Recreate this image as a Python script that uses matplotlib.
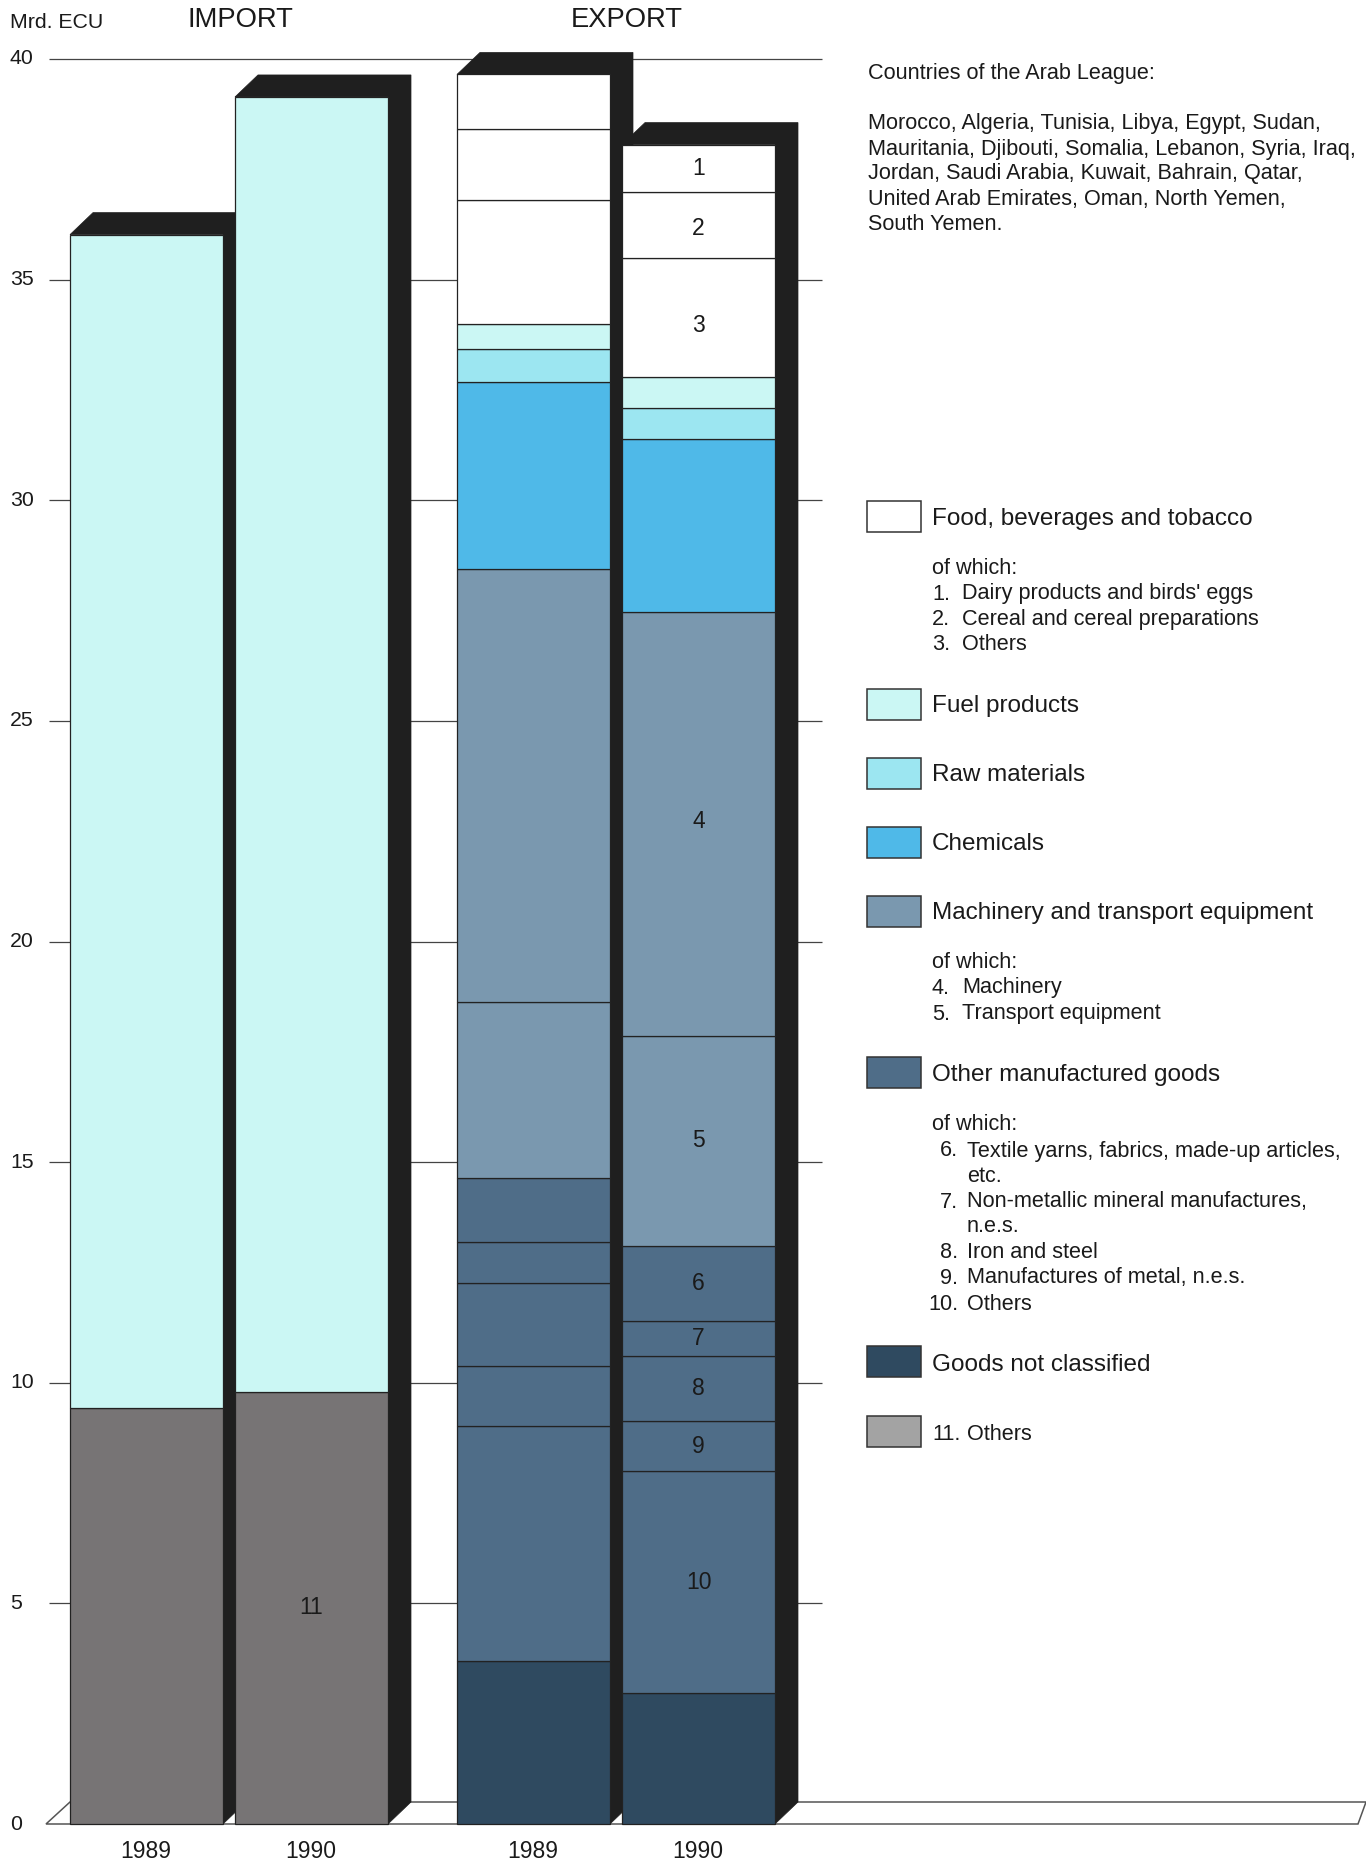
import matplotlib
matplotlib.use("Agg")
import matplotlib.pyplot as plt
from matplotlib.patches import Polygon, Rectangle
import numpy as np

plt.rcParams['font.family'] = ['Liberation Sans', 'DejaVu Sans']

W, H = 1366, 1863
Y0_PX, UNIT_PX = 1824.0, 44.125

# ---- data ----
years = ['1989', '1990']
y_ticks = [0, 5, 10, 15, 20, 25, 30, 35, 40]

import_others = [9.42, 9.80]
import_fuel = [26.60, 29.34]

# bottom to top
export_not_classified = [3.69, 2.96]
export_other_mfg_10 = [5.33, 5.03]
export_metal_9 = [1.37, 1.14]
export_iron_8 = [1.88, 1.48]
export_mineral_7 = [0.92, 0.78]
export_textile_6 = [1.45, 1.72]
export_transport_5 = [3.99, 4.74]
export_machinery_4 = [9.82, 9.61]
export_chemicals = [4.23, 3.93]
export_raw = [0.75, 0.70]
export_fuel = [0.57, 0.70]
export_food_3 = [2.80, 2.69]
export_cereal_2 = [1.61, 1.50]
export_dairy_1 = [1.24, 1.08]

C_FOOD, C_FUEL, C_RAW, C_CHEM = '#ffffff', '#cbf7f4', '#9ce6f1', '#4fb9e8'
C_MACH, C_OTHER, C_NC, C_GREY = '#7a98af', '#4f6d88', '#2f4a60', '#777475'

export_stack = [
    (export_not_classified, C_NC, None),
    (export_other_mfg_10, C_OTHER, '10'),
    (export_metal_9, C_OTHER, '9'),
    (export_iron_8, C_OTHER, '8'),
    (export_mineral_7, C_OTHER, '7'),
    (export_textile_6, C_OTHER, '6'),
    (export_transport_5, C_MACH, '5'),
    (export_machinery_4, C_MACH, '4'),
    (export_chemicals, C_CHEM, None),
    (export_raw, C_RAW, None),
    (export_fuel, C_FUEL, None),
    (export_food_3, C_FOOD, '3'),
    (export_cereal_2, C_FOOD, '2'),
    (export_dairy_1, C_FOOD, '1'),
]
import_stack = [
    (import_others, C_GREY, '11'),
    (import_fuel, C_FUEL, None),
]

# ---- layout ----
fig = plt.figure(figsize=(W / 100, H / 100), dpi=100, facecolor='white')
ax = fig.add_axes([0, 0, 1, 1])
ax.set_xlim(0, W)
ax.set_ylim((Y0_PX - H) / UNIT_PX, Y0_PX / UNIT_PX)
ax.axis('off')

BAR_W = 153
import_x = [70, 235]
export_x = [457, 622]
DX, DY = 23, 22 / UNIT_PX
SHADOW = '#1f1f1f'
EDGE = '#222222'
LABEL_NUDGE = {'3': -0.18, '2': -0.07, '4': 0.07, '11': 0.0}


def ty(px):
    return 1 - px / H


def T(x, y, s, size=15.6, **kw):
    fig.text(x / W, ty(y + 2), s, fontsize=size, va='center', color='#1a1a1a', **kw)


# grid ticks
for v in y_ticks[1:]:
    ax.plot([49, 822], [v, v], color='#444444', lw=0.9, zorder=1, solid_capstyle='butt')
    ax.text(10, v, str(v), fontsize=15.3, va='center', ha='left', color='#1a1a1a')
ax.text(10, 0, '0', fontsize=15.3, va='center', ha='left', color='#1a1a1a')

# floor
ax.add_patch(Polygon([(46, 0), (70, DY), (1366, DY), (1358, 0)], closed=True,
                     facecolor='white', edgecolor='#555555', lw=1.1, zorder=2))


def stacked(xs, stack, label_idx, z):
    totals = np.sum([s[0] for s in stack], axis=0)
    for i, x in enumerate(xs):
        r = x + BAR_W
        t = totals[i]
        ax.add_patch(Polygon([(x, t), (x + DX, t + DY), (r + DX, t + DY), (r + DX, DY),
                              (r, 0), (r, t)], closed=True, facecolor=SHADOW,
                             edgecolor=SHADOW, lw=0.5, zorder=z))
        bottom = 0.0
        for vals, col, lab in stack:
            ax.bar(x, vals[i], width=BAR_W, bottom=bottom, align='edge', color=col,
                   edgecolor=EDGE, linewidth=0.9, zorder=z + 0.5)
            if lab and i == label_idx:
                ax.text(x + BAR_W / 2, bottom + vals[i] / 2 + LABEL_NUDGE.get(lab, 0), lab,
                        fontsize=16.5, ha='center', va='center', color='#1a1a1a', zorder=z + 1)
            bottom += vals[i]
        z += 2


stacked(import_x, import_stack, 1, 3)
stacked(export_x, export_stack, 1, 8)

# years
for xs in (import_x, export_x):
    for x, yr in zip(xs, years):
        ax.text(x + BAR_W / 2 - 1, (Y0_PX - 1851) / UNIT_PX, yr, fontsize=16.5, ha='center',
                va='center', color='#1a1a1a')

# headings
T(10, 20, 'Mrd. ECU', size=15.3)
T(240, 18, 'IMPORT', size=19.7, ha='center')
T(627, 18, 'EXPORT', size=19.7, ha='center')

# country note
T(868, 71, 'Countries of the Arab League:')
for y, s in zip([121, 147, 172, 198, 223], [
    'Morocco, Algeria, Tunisia, Libya, Egypt, Sudan,',
    'Mauritania, Djibouti, Somalia, Lebanon, Syria, Iraq,',
    'Jordan, Saudi Arabia, Kuwait, Bahrain, Qatar,',
    'United Arab Emirates, Oman, North Yemen,',
    'South Yemen.',
]):
    T(868, y, s)

# legend swatches
swatches = [(501, C_FOOD), (689, C_FUEL), (758, C_RAW), (827, C_CHEM),
            (896, C_MACH), (1057, C_OTHER), (1346, C_NC), (1416, '#a3a3a3')]
for y, c in swatches:
    fig.add_artist(Rectangle((867 / W, ty(y + 31)), 54 / W, 31 / H, transform=fig.transFigure,
                             facecolor=c, edgecolor='#333333', lw=1.1))

for y, s in [(517, 'Food, beverages and tobacco'), (704, 'Fuel products'), (773, 'Raw materials'),
             (842, 'Chemicals'), (911, 'Machinery and transport equipment'),
             (1073, 'Other manufactured goods'), (1363, 'Goods not classified')]:
    T(932, y, s, size=17.5)
T(967, 1433, 'Others')
T(932, 1433, '11.')

for y in (567, 961, 1123):
    T(932, y, 'of which:')
for y, n, s in [(592, '1.', 'Dairy products and birds\' eggs'),
                (618, '2.', 'Cereal and cereal preparations'),
                (643, '3.', 'Others'),
                (986, '4.', 'Machinery'),
                (1012, '5.', 'Transport equipment')]:
    T(932, y, n)
    T(962, y, s)
for y, n, s in [(1149, '6.', 'Textile yarns, fabrics, made-up articles,'),
                (1200, '7.', 'Non-metallic mineral manufactures,'),
                (1251, '8.', 'Iron and steel'),
                (1276, '9.', 'Manufactures of metal, n.e.s.'),
                (1302, '10.', 'Others')]:
    T(958, y, n, ha='right')
    T(967, y, s)
T(967, 1174, 'etc.')
T(967, 1225, 'n.e.s.')

fig.savefig('out.png', dpi=100, facecolor='white')
